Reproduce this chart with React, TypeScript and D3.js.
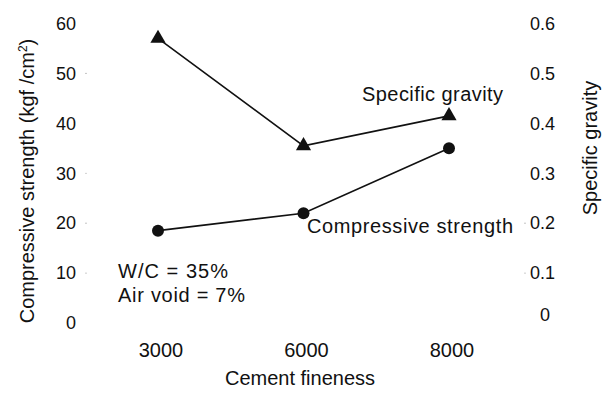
import React from "react";
import * as d3 from "d3";

const categories = ["3000", "6000", "8000"];
const strengthValues = [18.5, 22, 35];
const gravityValues = [0.57, 0.355, 0.415];
const leftTicks = [0, 10, 20, 30, 40, 50, 60];
const rightTicks = [0, 0.1, 0.2, 0.3, 0.4, 0.5, 0.6];

const W = 609;
const H = 396;
const FONT = "'Liberation Sans', Arial, sans-serif";
const INK = "#111";

export default function App() {
  const x = d3.scalePoint<string>().domain(categories).range([158, 449]);
  const yL = d3.scaleLinear().domain([0, 60]).range([323, 23.5]);
  const yR = d3.scaleLinear().domain([0, 0.6]).range([323, 23.5]);

  const lineL = d3
    .line<number>()
    .x((_, i) => x(categories[i]) as number)
    .y((d) => yL(d));
  const lineR = d3
    .line<number>()
    .x((_, i) => x(categories[i]) as number)
    .y((d) => yR(d));

  const tri = d3.symbol().type(d3.symbolTriangle).size(100)();

  return (
    <svg
      width={W}
      height={H}
      style={{ position: "absolute", left: 0, top: 0, background: "#fff" }}
      fontFamily={FONT}
    >
      <rect width={W} height={H} fill="#fff" />
      {/* left ticks */}
      {leftTicks.map((t) => (
        <g key={"l" + t}>
          <text
            x={76}
            y={yL(t)}
            dy="0.35em"
            textAnchor="end"
            fontSize={18}
            fill={INK}
          >
            {t}
          </text>
          {t > 0 && t < 60 && t !== 40 && (
            <circle cx={86} cy={yL(t)} r={0.6} fill="#999" />
          )}
        </g>
      ))}
      {/* right ticks */}
      {rightTicks.map((t) => (
        <g key={"r" + t}>
          <text
            x={t === 0 ? 545 : 530}
            y={t === 0 ? yR(t) - 8 : yR(t)}
            dy="0.35em"
            textAnchor={t === 0 ? "middle" : "start"}
            fontSize={18}
            fill={INK}
          >
            {t === 0 ? "0" : d3.format(".1f")(t)}
          </text>
          {(t === 0.1 || t === 0.2) && (
            <circle cx={525} cy={yR(t)} r={0.6} fill="#999" />
          )}
        </g>
      ))}
      {/* x ticks */}
      {categories.map((c) => (
        <text
          key={"x" + c}
          x={(x(c) as number) + 3}
          y={350}
          dy="0.35em"
          textAnchor="middle"
          fontSize={20}
          fill={INK}
        >
          {c}
        </text>
      ))}
      {/* axis titles */}
      <text
        x={300}
        y={385}
        textAnchor="middle"
        fontSize={20}
        fill={INK}
      >
        Cement fineness
      </text>
      <text
        transform="translate(34,181) rotate(-90)"
        textAnchor="middle"
        fontSize={20}
        fill={INK}
      >
        Compressive strength (kgf /cm
        <tspan dy={-7} fontSize={12}>2</tspan>
        <tspan dy={7}>)</tspan>
      </text>
      <text
        transform="translate(597,148) rotate(-90)"
        textAnchor="middle"
        fontSize={20}
        fill={INK}
      >
        Specific gravity
      </text>
      {/* lines */}
      <path d={lineR(gravityValues) || ""} fill="none" stroke={INK} strokeWidth={1.6} />
      <path d={lineL(strengthValues) || ""} fill="none" stroke={INK} strokeWidth={1.6} />
      {gravityValues.map((v, i) => (
        <path
          key={"t" + i}
          d={tri || ""}
          transform={`translate(${x(categories[i])},${yR(v)})`}
          fill={INK}
        />
      ))}
      {strengthValues.map((v, i) => (
        <circle
          key={"c" + i}
          cx={x(categories[i]) as number}
          cy={yL(v)}
          r={6}
          fill={INK}
        />
      ))}
      {/* annotations */}
      <text x={362} y={101} fontSize={20} fill={INK} textLength={141}>
        Specific gravity
      </text>
      <text x={307} y={233} fontSize={20} fill={INK} textLength={206}>
        Compressive strength
      </text>
      <text x={118} y={278} fontSize={20} fill={INK} textLength={110}>
        W/C = 35%
      </text>
      <text x={118} y={302} fontSize={20} fill={INK} textLength={127}>
        Air void = 7%
      </text>
    </svg>
  );
}
